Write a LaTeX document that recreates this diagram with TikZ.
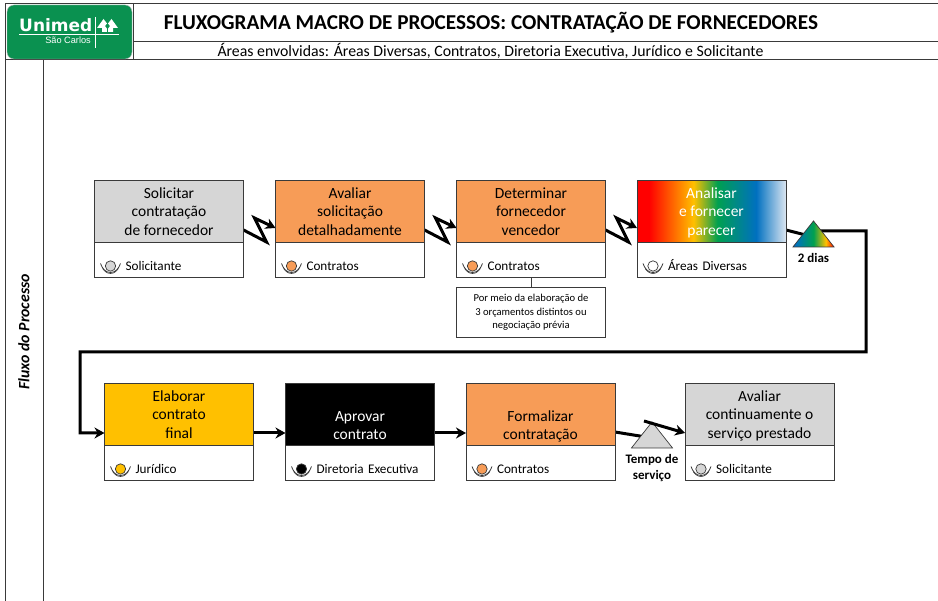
\documentclass[tikz,border=0pt]{standalone}
\usepackage{fontspec}
\setmainfont{Carlito}
\newfontfamily\logofont{DejaVu Sans}
\newfontfamily\logosmall{Liberation Sans}
\usepackage{tikz}
\usetikzlibrary{positioning, calc, backgrounds, arrows.meta, shapes.geometric}
\definecolor{unimed}{HTML}{0A9150}
\definecolor{laranja}{HTML}{F79C57}
\definecolor{cinza}{HTML}{D6D6D6}
\definecolor{ouro}{HTML}{FFC000}
\definecolor{verde}{HTML}{00A050}
\definecolor{azul}{HTML}{0070C0}
\definecolor{palido}{HTML}{DCE6F1}
\definecolor{borda}{HTML}{3A3A3A}
\pgfdeclarehorizontalshading{arcoiris}{100bp}{color(0bp)=(red); color(25bp)=(red);
 color(29bp)=(red); color(44bp)=(ouro); color(52bp)=(verde);
 color(65bp)=(azul); color(75bp)=(palido); color(100bp)=(palido)}
\pgfdeclarehorizontalshading{arcotri}{100bp}{color(0bp)=(azul);
 color(28bp)=(azul); color(50bp)=(verde); color(65bp)=(ouro);
 color(75bp)=(red); color(100bp)=(red)}
\tikzset{
 stephead/.style={draw=borda, line width=1pt, minimum width=149pt, minimum height=62pt,
  inner sep=0pt, outer sep=0pt, align=center, text depth=1pt, font=\fontsize{15.5}{18.8}\selectfont},
 stepfoot/.style={draw=borda, line width=1pt, text width=149pt, inner xsep=0pt, inner ysep=0pt,
  outer sep=0pt, text height=28pt, text depth=7pt, align=left, font=\fontsize{13.2}{15}\selectfont,
  execute at begin node=\hspace*{31pt}},
 seta/.style={line width=3pt, -{Stealth[length=10pt,width=11pt]}, line join=miter},
 prazo/.style={isosceles triangle, isosceles triangle stretches, shape border rotate=90,
  minimum height=26pt, minimum width=41pt, inner sep=0pt, outer sep=0pt, draw=borda, line width=0.7pt},
 prazotxt/.style={align=center, inner sep=0pt, font=\fontsize{13}{16}\selectfont\bfseries},
 quadro/.style={draw=borda, line width=1pt},
}
% little person in the footer of a step box
\newcommand{\respicon}[2]{%
 \fill[#2, draw=borda, line width=0.7pt] ($(#1.west)+(16,5.5)$) circle (5.2pt);
 \draw[borda, line width=0.8pt] ($(#1.west)+(6,3)$) to[out=-70, in=180] ($(#1.west)+(16,12)$)
  to[out=0, in=-110] ($(#1.west)+(26,3)$);
 \draw[borda, line width=0.6pt] ($(#1.west)+(8,8)$) to[out=-50, in=180] ($(#1.west)+(16,13)$)
  to[out=0, in=-130] ($(#1.west)+(24,8)$);
}
\begin{document}
\begin{tikzpicture}[x=1pt, y=-1pt]
\useasboundingbox (0,0) rectangle (938,601);

% frame of the sheet
\draw[quadro] (938,4) -- (5,4) -- (5,601);
\draw[quadro] (5,60) -- (938,60);
\draw[quadro] (133,42) -- (938,42);
\draw[quadro] (133,4) -- (133,60);
\draw[quadro] (43,60) -- (43,601);

% logo
\node[fill=unimed, draw=black!30, rounded corners=7pt, minimum width=125pt, minimum height=54pt,
 inner sep=0pt] (logo) at (69.5,32) {};
\node[white, anchor=base west, inner sep=0pt, font=\logofont\bfseries\fontsize{17}{17}\selectfont]
 (logoname) at (19,32) {Unimed};
\node[white, anchor=east, inner sep=0pt, font=\logosmall\fontsize{9.2}{10}\selectfont]
 (logocity) at (91,40) {São Carlos};
\draw[white, line width=0.6pt] (19,34) -- (119,34);
\draw[white, line width=0.6pt] (95,17) -- (95,48);
\fill[white] (97,28) -- (103.5,19) -- (107,23.5) -- (105,26) -- (106.8,28.5) -- (106.8,32)
 -- (102,32) -- (102,28) -- cycle;
\fill[white] (118,28) -- (111.5,19) -- (108,23.5) -- (110,26) -- (108.2,28.5) -- (108.2,32)
 -- (113,32) -- (113,28) -- cycle;

% titles
\node[inner sep=0pt, font=\fontsize{21.2}{24}\selectfont\bfseries] (title) at (491,23)
 {FLUXOGRAMA MACRO DE PROCESSOS: CONTRATAÇÃO DE FORNECEDORES};
\node[inner sep=0pt, font=\fontsize{15.8}{18}\selectfont] (areas) at (490.5,51)
 {Áreas envolvidas: Áreas Diversas, Contratos, Diretoria Executiva, Jurídico e Solicitante};
\node[rotate=90, inner sep=0pt, font=\fontsize{15.8}{18}\selectfont\bfseries\itshape] (fluxo) at (24,332)
 {Fluxo do Processo};

% first row
\node[stephead, fill=cinza] (solicitar) at (169,212) {Solicitar\\contratação\\de fornecedor};
\node[stepfoot, below=0pt of solicitar] (solicitarresp) {Solicitante};
\node[stephead, fill=laranja] (avaliar) at (350,212) {Avaliar\\solicitação\\detalhadamente};
\node[stepfoot, below=0pt of avaliar] (avaliarresp) {Contratos};
\node[stephead, fill=laranja] (determinar) at (531,212) {Determinar\\fornecedor\\vencedor};
\node[stepfoot, below=0pt of determinar] (determinarresp) {Contratos};
\node[stephead, shading=arcoiris, text=white] (analisar) at (711.5,212) {Analisar\\e fornecer\\parecer};
\node[stepfoot, below=0pt of analisar] (analisarresp) {Áreas Diversas};
\draw[borda, line width=1pt] (analisar.north west) rectangle (analisar.south east);

\node[draw=borda, line width=1pt, minimum width=149pt, minimum height=50pt, inner sep=0pt, align=center,
 font=\fontsize{10.6}{13.5}\selectfont, below=9pt of determinarresp] (nota)
 {Por meio da elaboração de\\3 orçamentos distintos ou\\negociação prévia};
\draw[borda, line width=1pt] (determinarresp) -- (nota);

% second row
\node[stephead, fill=ouro] (elaborar) at (179,415) {Elaborar\\contrato\\final};
\node[stepfoot, below=0pt of elaborar] (elaborarresp) {Jurídico};
\node[stephead, fill=black, text=white] (aprovar) at (360,415) {\strut\\Aprovar\\contrato};
\node[stepfoot, below=0pt of aprovar] (aprovarresp) {Diretoria Executiva};
\node[stephead, fill=laranja] (formalizar) at (540.5,415) {\strut\\Formalizar\\contratação};
\node[stepfoot, below=0pt of formalizar] (formalizarresp) {Contratos};
\node[stephead, fill=cinza] (continuo) at (759.5,415) {Avaliar\\continuamente o\\serviço prestado};
\node[stepfoot, below=0pt of continuo] (continuoresp) {Solicitante};

\respicon{solicitarresp}{cinza}
\respicon{avaliarresp}{laranja}
\respicon{determinarresp}{laranja}
\respicon{analisarresp}{white}
\respicon{elaborarresp}{ouro}
\respicon{aprovarresp}{black}
\respicon{formalizarresp}{laranja}
\respicon{continuoresp}{cinza}

% time markers
\node[prazo, shading=arcotri] (doisdias) at (813.5,237) {};
\node[prazotxt, below=6pt of doisdias.south] (doisdiastxt) {2 dias};
\node[prazo, fill=cinza] (tempo) at (652,438) {};
\node[prazotxt, below=6pt of tempo.south] (tempotxt) {Tempo de\\serviço};

% connectors go under the markers
\begin{scope}[on background layer]
\draw[seta] ($(solicitar.east)+(0,18)$) -- ++(23,12) -- ++(-12,-24) -- (avaliar.west |- 0,228);
\draw[seta] ($(avaliar.east)+(0,18)$) -- ++(23,12) -- ++(-12,-24) -- (determinar.west |- 0,228);
\draw[seta] ($(determinar.east)+(0,18)$) -- ++(23,12) -- ++(-12,-24) -- (analisar.west |- 0,228);
\draw[seta] (analisar.east |- 0,230) -- (doisdias.center) -- ++(0,-6) -- (866,231) -- (866,352)
 -- (80,352) -- (80,433) -- (elaborar.west |- 0,433);
\draw[seta] (elaborar.east |- 0,433) -- (aprovar.west |- 0,433);
\draw[seta] (aprovar.east |- 0,433) -- (formalizar.west |- 0,433);
\draw[line width=3pt] (formalizar.east |- 0,432) -- (tempo.center);
\end{scope}
\coordinate (tempotop) at (644,421);
\draw[seta] (tempotop) -- (continuo.west |- 0,433);
\end{tikzpicture}
\end{document}
